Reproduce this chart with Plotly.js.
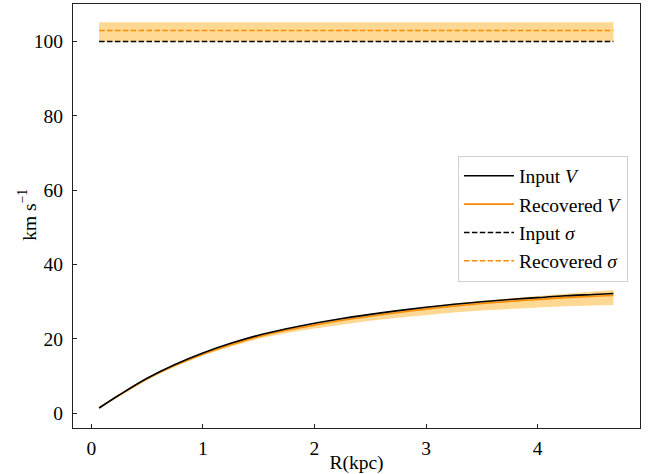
<!DOCTYPE html>
<html>
<head>
<meta charset="utf-8">
<script src="https://cdn.plot.ly/plotly-3.0.1.min.js"></script>
<style>html,body{margin:0;padding:0;background:#fff;}#chart{width:649px;height:474px;}</style>
</head>
<body>
<div id="chart"></div>
<script>
// Radius (kpc)
const R = [0.07, 0.25, 0.5, 0.75, 1.0, 1.25, 1.5, 1.75, 2.0, 2.25, 2.5, 2.75, 3.0, 3.25, 3.5, 3.75, 4.0, 4.25, 4.5, 4.68];
// Rotation velocity
const V_input = [1.4, 4.9, 9.4, 13.1, 16.2, 18.8, 21.0, 22.7, 24.2, 25.5, 26.6, 27.6, 28.5, 29.3, 30.0, 30.6, 31.1, 31.6, 31.95, 32.2];
const V_recovered = [1.4, 4.8, 9.2, 12.8, 15.85, 18.4, 20.6, 22.3, 23.7, 25.0, 26.1, 27.1, 28.0, 28.8, 29.5, 30.1, 30.6, 31.1, 31.45, 31.65];
const V_low = [1.4, 4.75, 9.05, 12.55, 15.5, 17.9, 20.0, 21.55, 22.8, 23.95, 24.9, 25.7, 26.45, 27.1, 27.65, 28.1, 28.45, 28.8, 29.0, 29.1];
const V_high = [1.4, 4.85, 9.3, 12.95, 16.05, 18.65, 20.9, 22.65, 24.1, 25.45, 26.6, 27.65, 28.6, 29.5, 30.25, 30.95, 31.55, 32.15, 32.75, 33.15];
// Dispersion
const R_sigma = [0.07, 4.68];
const sigma_input = [100, 100];
const sigma_recovered = [103, 103];
const sigma_low = [100, 100];
const sigma_high = [105.2, 105.2];
// Ticks
const xTicks = [0, 1, 2, 3, 4];
const yTicks = [0, 20, 40, 60, 80, 100];

const ORANGE = '#ff8c00';
const BAND = 'rgba(255,165,0,0.42)';
const serif = '"Liberation Serif", "DejaVu Serif", serif';

const traces = [
  {x: R, y: V_low, mode: 'lines', line: {width: 0, color: BAND}, showlegend: false, hoverinfo: 'skip'},
  {x: R, y: V_high, mode: 'lines', line: {width: 0, color: BAND}, fill: 'tonexty', fillcolor: BAND, showlegend: false, hoverinfo: 'skip'},
  {x: R_sigma, y: sigma_low, mode: 'lines', line: {width: 0, color: BAND}, showlegend: false, hoverinfo: 'skip'},
  {x: R_sigma, y: sigma_high, mode: 'lines', line: {width: 0, color: BAND}, fill: 'tonexty', fillcolor: BAND, showlegend: false, hoverinfo: 'skip'},
  {x: R, y: V_recovered, mode: 'lines', line: {color: ORANGE, width: 1.6, shape: 'spline'}, name: 'Recovered <i>V</i>', legendrank: 2, legendgroup: 'b'},
  {x: R, y: V_input, mode: 'lines', line: {color: '#000', width: 1.6, shape: 'spline'}, name: 'Input <i>V</i>', legendrank: 1, legendgroup: 'a'},
  {x: R_sigma, y: sigma_input, mode: 'lines', line: {color: '#000', width: 1.5, dash: '5.5px,2.4px'}, name: 'Input <i>σ</i>', legendrank: 3, legendgroup: 'c'},
  {x: R_sigma, y: sigma_recovered, mode: 'lines', line: {color: ORANGE, width: 1.5, dash: '5.5px,2.4px'}, name: 'Recovered <i>σ</i>', legendrank: 4, legendgroup: 'd'}
];

const axisCommon = {
  showgrid: false, zeroline: false, showline: true, mirror: true,
  linecolor: '#222', linewidth: 1, ticks: 'inside', ticklen: 4, tickwidth: 1, tickcolor: '#222',
  tickfont: {family: serif, size: 19.5, color: '#000'}, automargin: false
};

const layout = {
  width: 649, height: 474,
  margin: {l: 73, r: 9, t: 4, b: 46},
  paper_bgcolor: '#fff', plot_bgcolor: '#fff',
  font: {family: serif, color: '#000'},
  xaxis: Object.assign({}, axisCommon, {
    range: [-0.164, 4.918], tickvals: xTicks, ticklabelstandoff: 3,
    title: {text: 'R(kpc)', font: {family: serif, size: 19.5}, standoff: 3}
  }),
  yaxis: Object.assign({}, axisCommon, {
    range: [-3.98, 110.1], tickvals: yTicks, ticklabelstandoff: 5
  }),
  annotations: [{
    text: 'km s<sup>−1</sup>', xref: 'paper', yref: 'paper', x: -0.081, y: 0.503,
    xanchor: 'center', yanchor: 'middle', textangle: -90, showarrow: false,
    font: {family: serif, size: 19.5, color: '#000'}
  }],
  legend: {
    x: 0.679, y: 0.6425, xanchor: 'left', yanchor: 'top',
    bgcolor: '#fff', bordercolor: '#d0d0d0', borderwidth: 1,
    font: {family: serif, size: 19.5, color: '#000'},
    tracegroupgap: 0, itemwidth: 50
  },
  showlegend: true
};

Plotly.newPlot('chart', traces, layout, {staticPlot: true, displayModeBar: false});
</script>
</body>
</html>
